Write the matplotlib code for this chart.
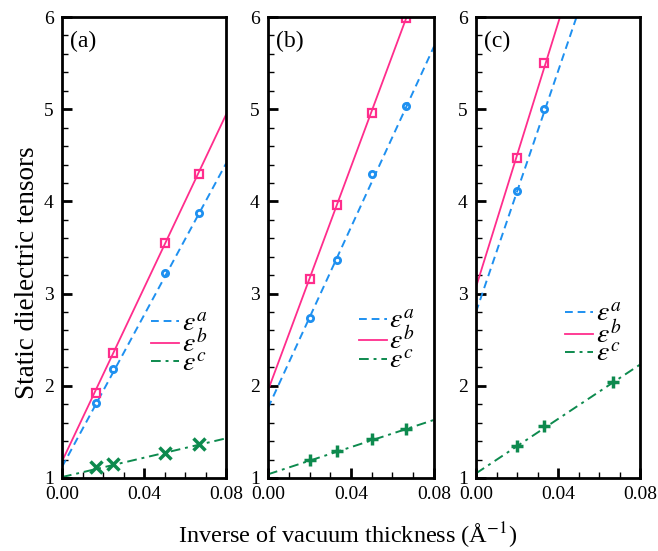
import numpy as np
import matplotlib
matplotlib.use("Agg")
import matplotlib.pyplot as plt
from matplotlib.ticker import MultipleLocator

plt.rcParams['font.family'] = ['Liberation Serif', 'DejaVu Serif']
plt.rcParams['mathtext.fontset'] = 'stix'

# panel (a)
xa = [0.0167, 0.025, 0.05, 0.0667]
a_eps_a = [1.81, 2.18, 3.22, 3.87]
a_eps_b = [1.92, 2.36, 3.55, 4.30]
a_eps_c = [1.12, 1.15, 1.27, 1.37]
# panel (b)
xb = [0.02, 0.0333, 0.05, 0.0667]
b_eps_a = [2.74, 3.36, 4.30, 5.03]
b_eps_b = [3.16, 3.96, 4.96, 5.99]
b_eps_c = [1.19, 1.29, 1.42, 1.53]
# panel (c)
xc_ab = [0.02, 0.0333]
c_eps_a = [4.11, 5.00]
c_eps_b = [4.47, 5.50]
xc_c = [0.02, 0.0333, 0.0667]
c_eps_c = [1.35, 1.56, 2.04]

# fitted lines, values at x=0 and x=0.08
fit_x = [0.0, 0.08]
a_fit = {'a': [1.12, 4.41], 'b': [1.18, 4.94], 'c': [1.01, 1.43]}
b_fit = {'a': [1.76, 5.68], 'b': [1.95, 6.80], 'c': [1.04, 1.63]}
c_fit = {'a': [2.80, 8.02], 'b': [3.07, 8.79], 'c': [1.05, 2.23]}

blue = '#1e90f0'
pink = '#ff2d8c'
green = '#0d8a4e'

fig = plt.figure(figsize=(6.58, 5.51), dpi=100)
lefts = [62/658, 268/658, 476/658]
widths = [164/658, 166/658, 164/658]
bottom = 1 - 478/551
height = (478 - 17)/551
leg_y = [0.29, 0.295, 0.31]

panels = [
    ('(a)', xa, a_eps_a, xa, a_eps_b, xa, a_eps_c, a_fit, 'x'),
    ('(b)', xb, b_eps_a, xb, b_eps_b, xb, b_eps_c, b_fit, '+'),
    ('(c)', xc_ab, c_eps_a, xc_ab, c_eps_b, xc_c, c_eps_c, c_fit, '+'),
]

for i, (lab, x1, ya, x2, yb, x3, yc, fit, cm) in enumerate(panels):
    ax = fig.add_axes([lefts[i], bottom, widths[i], height])
    ax.plot(fit_x, fit['a'], '--', color=blue, lw=1.4, dashes=(4, 2.5), label=r'$\varepsilon^a$')
    ax.plot(fit_x, fit['b'], '-', color=pink, lw=1.3, label=r'$\varepsilon^b$')
    ax.plot(fit_x, fit['c'], '-.', color=green, lw=1.4, dashes=(5, 2.5, 1.5, 2.5), label=r'$\varepsilon^c$')
    ax.plot(x1, ya, 'o', ms=4.5, mfc='none', mec=blue, mew=2)
    ax.plot(x2, yb, 's', ms=6, mfc='none', mec=pink, mew=1.6)
    ax.plot(x3, yc, cm, ms=8, color=green, mew=2.5)
    ax.set_xlim(0, 0.08)
    ax.set_ylim(1, 6)
    ax.set_xticks([0, 0.04, 0.08])
    ax.set_xticklabels(['0.00', '0.04', '0.08'])
    ax.set_yticks([1, 2, 3, 4, 5, 6])
    ax.xaxis.set_minor_locator(MultipleLocator(0.01))
    ax.yaxis.set_minor_locator(MultipleLocator(0.2))
    ax.tick_params(which='both', direction='in', top=False, right=False, labelsize=14, pad=6)
    ax.tick_params(which='major', length=7, width=2)
    ax.tick_params(which='minor', length=4, width=1)
    for s in ax.spines.values():
        s.set_linewidth(2)
    ax.text(0.05, 0.97, lab, transform=ax.transAxes, fontsize=17, va='top', ha='left')
    ax.legend(loc='center right', bbox_to_anchor=(1 - 19/164, leg_y[i]), frameon=False, fontsize=20,
              handlelength=1.0, labelspacing=-0.25, handletextpad=0.1, borderaxespad=0, borderpad=0)

fig.text(28/658, 1 - 273/551, 'Static dielectric tensors', rotation=90, fontsize=19.5,
         ha='center', va='center')
fig.text(348/658, 1 - 536/551, 'Inverse of vacuum thickness (Å$^{-1}$)', fontsize=17.5,
         ha='center', va='center')

fig.savefig('out.png', dpi=100)
